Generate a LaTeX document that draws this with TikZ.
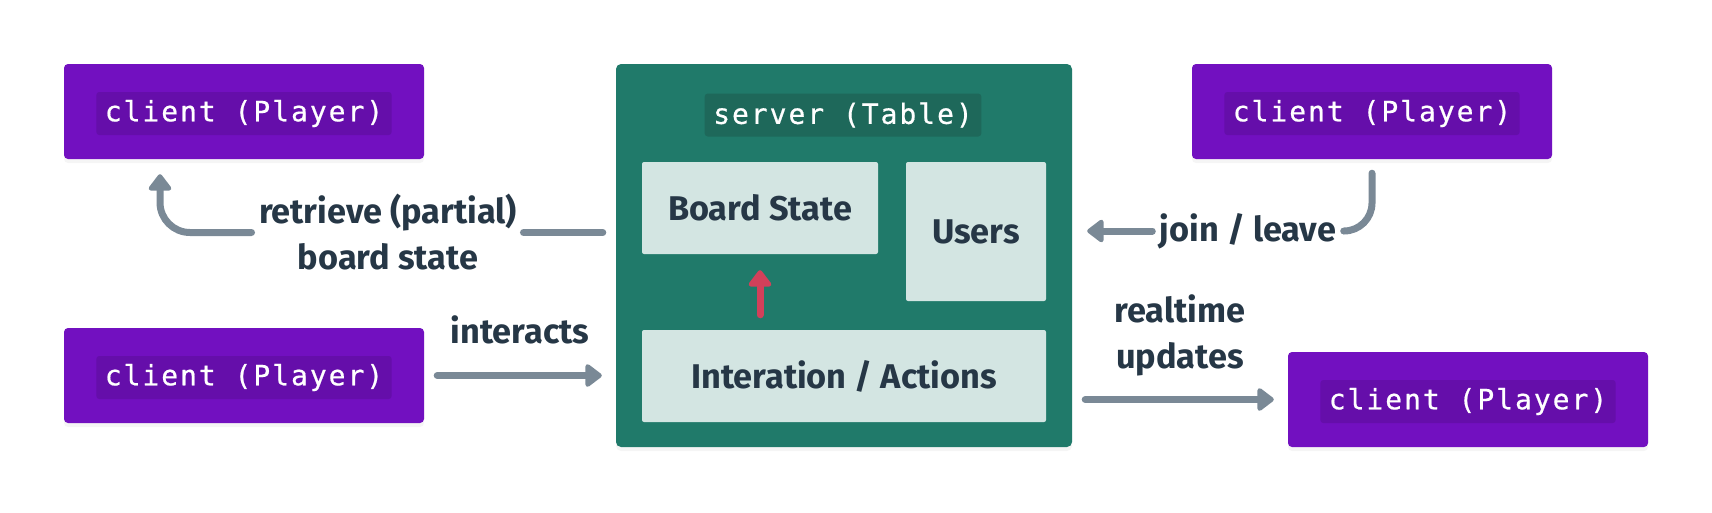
\documentclass[tikz,border=0pt]{standalone}
\usepackage{fontspec}
\setmainfont{Fira Sans}
\setmonofont{DejaVu Sans Mono}[LetterSpace=7, FakeBold=0.6]
\usetikzlibrary{arrows.meta,positioning,shadows}

\definecolor{playerpurple}{HTML}{7210C0}
\definecolor{playertag}{HTML}{650EAA}
\definecolor{tableteal}{HTML}{207A6A}
\definecolor{tabletag}{HTML}{1E685A}
\definecolor{partgrey}{HTML}{D3E5E2}
\definecolor{inkdark}{HTML}{263746}
\definecolor{linkgrey}{HTML}{7A8996}
\definecolor{actionred}{HTML}{D2405A}

\tikzset{
  softshadow/.style={drop shadow={opacity=0.08, shadow xshift=0pt, shadow yshift=-4pt}},
  client/.style={fill=playerpurple, rounded corners=4pt, minimum width=360pt, minimum height=95pt, softshadow},
  codetag/.style={fill=playertag, rounded corners=3pt, text=white, inner xsep=8.5pt,
    minimum height=43pt, font=\ttfamily\fontsize{28}{32}\selectfont},
  server/.style={fill=tableteal, rounded corners=5pt, minimum width=456pt, minimum height=383pt, softshadow},
  part/.style={fill=partgrey, text=inkdark, rounded corners=2pt, font=\bfseries\fontsize{34.3}{40}\selectfont},
  lbl/.style={text=inkdark, align=center, font=\bfseries\fontsize{34.3}{46}\selectfont},
  conn/.style={draw=linkgrey, line width=7pt, line cap=round, -{Triangle[length=18pt, width=26pt, round]}},
}

\begin{document}
\begin{tikzpicture}[x=1pt, y=-1pt]
  \useasboundingbox (0,0) rectangle (1712,512);

  % clients
  \node[client] (c1) at (244,111.5) {};
  \node[codetag] (c1t) at ([yshift=-2pt]c1) {client (Player)};
  \node[client] (c2) at (244,375.5) {};
  \node[codetag] (c2t) at ([yshift=-2pt]c2) {client (Player)};
  \node[client] (c3) at (1372,111.5) {};
  \node[codetag] (c3t) at ([yshift=-2pt]c3) {client (Player)};
  \node[client] (c4) at (1468,399.5) {};
  \node[codetag] (c4t) at ([yshift=-2pt]c4) {client (Player)};

  % server and its parts
  \node[server] (server) at (844,255.5) {};
  \node[codetag, fill=tabletag] (srvtag) at (843,115) {server (Table)};
  \node[part, minimum width=236pt, minimum height=92pt] (board) at (760,208) {Board State};
  \node[part, minimum width=140pt, minimum height=139pt] (users) at (976,231.5) {Users};
  \node[part, minimum width=404pt, minimum height=92pt] (inter) at (844,376) {Interation / Actions};

  % labels
  \node[lbl] (ret) at (388,232.5) {retrieve (partial)\\board state};
  \node[lbl, anchor=base] (intl) at (520,343) {interacts};
  \node[lbl] (join) at (1248,231) {join / leave};
  \node[lbl] (real) at (1180,335) {realtime\\updates};

  % connectors
  \draw[conn, -, shorten <=13pt, shorten >=3pt] (server.west |- ret.east) -- (ret.east);
  \draw[conn, rounded corners=30pt, shorten <=4pt, shorten >=15pt] (ret.west) -| ([xshift=-84pt]c1.south);
  \draw[conn, -, rounded corners=28pt, shorten <=14pt, shorten >=4pt] (c3.south) |- (join.east);
  \draw[conn, shorten <=4pt, shorten >=15pt] (join.west) -- (server.east |- join.west);
  \draw[conn, shorten <=13pt, shorten >=14pt] (c2.east) -- (c2.east -| server.west);
  \draw[conn, shorten <=13pt, shorten >=14pt] (c4.west -| server.east) -- (c4.west);
  \draw[conn, draw=actionred, shorten <=15pt, shorten >=16pt] (board.south |- inter.north) -- (board.south);
\end{tikzpicture}
\end{document}
